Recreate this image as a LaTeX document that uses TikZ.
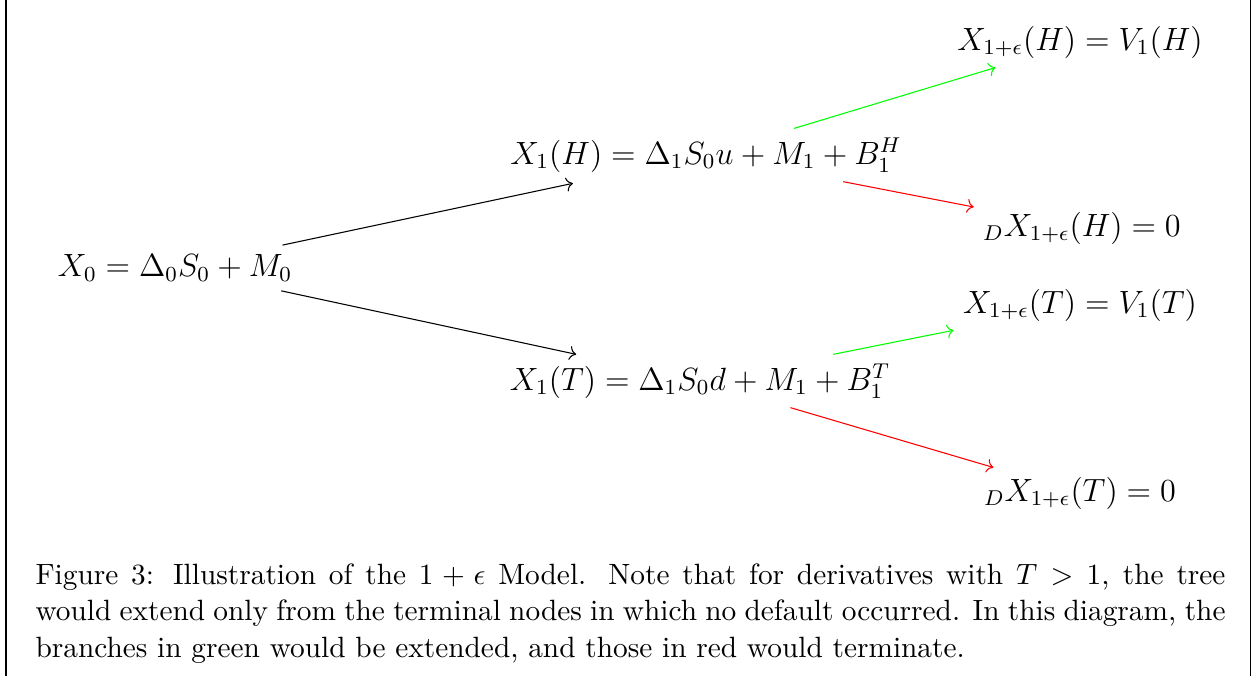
\documentclass[tikz,border=0pt]{standalone}
\usepackage{amsmath,amssymb}
\usepackage{xcolor}
\usepackage{tikz}
\usetikzlibrary{arrows.meta,positioning,calc}

\begin{document}
\begin{tikzpicture}[font=\fontsize{12}{14.5}\selectfont,
  arr/.style={->},
  live/.style={->,green},
  dead/.style={->,red},
  capt/.style={anchor=north west,inner sep=0pt,text width=444pt,align=justify,font=\fontsize{10.95}{13.6}\selectfont}]
\useasboundingbox (0,0) rectangle (16.444,-8.864);
\draw (0.079,0) -- (0.079,-8.864);
\draw (16.404,0) -- (16.404,-8.864);
\node (x0) at (2.295,-3.514) {$X_0 = \Delta_0 S_0 + M_0$};
\node (h1) at (9.258,-2.033) {$X_1(H) = \Delta_1 S_0 u + M_1 + B_1^H$};
\node (t1) at (9.179,-4.996) {$X_1(T) = \Delta_1 S_0 d + M_1 + B_1^T$};
\node (vh) at (14.162,-0.551) {$X_{1+\epsilon}(H) = V_1(H)$};
\node (dh) at (14.188,-2.990) {${}_D X_{1+\epsilon}(H) = 0$};
\node (vt) at (14.162,-4.000) {$X_{1+\epsilon}(T) = V_1(T)$};
\node (dt) at (14.162,-6.465) {${}_D X_{1+\epsilon}(T) = 0$};
\draw[arr,shorten >=3pt] (x0) -- (h1); \draw[arr] (x0) -- (t1);
\draw[live] (h1) -- (vh); \draw[dead] (h1) -- (dh);
\draw[live] (t1) -- (vt); \draw[dead] (t1) -- (dt);
\node[capt] (cap) at (0.459,-7.387) {Figure 3: Illustration of the $1+\epsilon$ Model. Note that for derivatives with $T > 1$, the tree\linebreak would extend only from the terminal nodes in which no default occurred. In this diagram, the\linebreak branches in green would be extended, and those in red would terminate.};
\end{tikzpicture}
\end{document}
